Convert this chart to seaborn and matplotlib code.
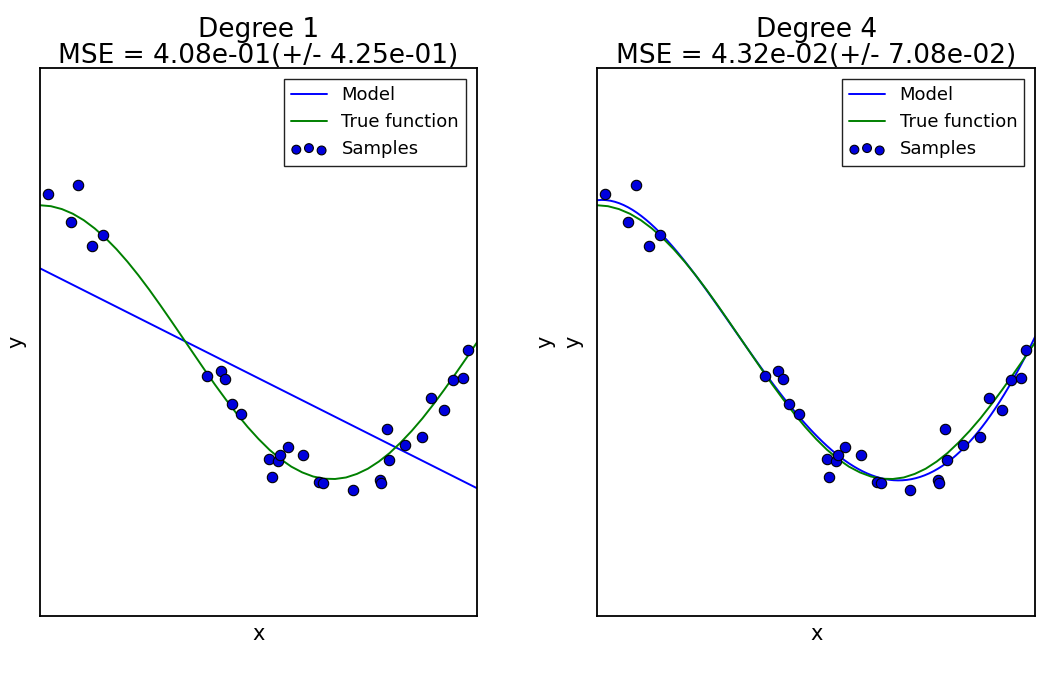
import numpy as np
import pandas as pd
import matplotlib
matplotlib.use("Agg")
import matplotlib.pyplot as plt
import seaborn as sns

# Sample points
sample_x = [0.018, 0.070, 0.088, 0.118, 0.143, 0.383, 0.414, 0.424, 0.439, 0.460,
            0.524, 0.530, 0.545, 0.549, 0.567, 0.602, 0.639, 0.647, 0.715, 0.778,
            0.781, 0.793, 0.799, 0.835, 0.873, 0.894, 0.925, 0.944, 0.967, 0.978]
sample_y = [1.085, 0.878, 1.146, 0.703, 0.786, -0.246, -0.214, -0.268, -0.453, -0.526,
            -0.854, -0.985, -0.871, -0.822, -0.766, -0.827, -1.024, -1.027, -1.080, -1.005,
            -1.029, -0.635, -0.859, -0.750, -0.696, -0.409, -0.496, -0.277, -0.258, -0.056]

# True function curve
true_x = [0.000, 0.025, 0.050, 0.075, 0.100, 0.125, 0.150, 0.175, 0.200, 0.225,
          0.250, 0.275, 0.300, 0.325, 0.350, 0.375, 0.400, 0.425, 0.450, 0.475,
          0.500, 0.525, 0.550, 0.575, 0.600, 0.625, 0.650, 0.675, 0.700, 0.725,
          0.750, 0.775, 0.800, 0.825, 0.850, 0.875, 0.900, 0.925, 0.950, 0.975, 1.000]
true_y = [1.000, 0.993, 0.972, 0.938, 0.891, 0.831, 0.760, 0.679, 0.588, 0.489,
          0.383, 0.271, 0.156, 0.039, -0.078, -0.195, -0.309, -0.418, -0.522, -0.619,
          -0.707, -0.786, -0.853, -0.909, -0.951, -0.981, -0.997, -0.999, -0.988, -0.962,
          -0.924, -0.872, -0.809, -0.733, -0.649, -0.556, -0.454, -0.346, -0.233, -0.118, 0.000]

degrees = [1, 4]
titles = ["Degree 1\nMSE = 4.08e-01(+/- 4.25e-01)",
          "Degree 4\nMSE = 4.32e-02(+/- 7.08e-02)"]

sns.set_style("white")
plt.rcParams["font.family"] = ["DejaVu Sans"]
plt.rcParams["text.color"] = "black"
plt.rcParams["axes.labelcolor"] = "black"

fig = plt.figure(figsize=(10.61, 6.83), dpi=100)
positions = [[0.0377, 0.098, 0.412, 0.802], [0.5627, 0.098, 0.413, 0.802]]

df = pd.DataFrame({"x": sample_x, "y": sample_y})
tdf = pd.DataFrame({"x": true_x, "y": true_y})

for i, deg in enumerate(degrees):
    ax = fig.add_axes(positions[i])
    ax.set_xlim(0, 1)
    ax.set_ylim(-2, 2)
    sns.regplot(data=df, x="x", y="y", order=deg, ci=None, scatter=False,
                truncate=False, color="b", label="Model",
                line_kws={"lw": 1.4, "color": "#0000ff"}, ax=ax)
    sns.lineplot(data=tdf, x="x", y="y", color="#008000", lw=1.4,
                 label="True function", ax=ax)
    sns.scatterplot(data=df, x="x", y="y", color="#0000dd", edgecolor="k",
                    linewidth=0.8, s=56, label="Samples", ax=ax, zorder=3)
    ax.set_xlim(0, 1)
    ax.set_ylim(-2, 2)
    ax.set_xticks([])
    ax.set_yticks([])
    ax.set_xlabel("x", fontsize=15, labelpad=6)
    ax.set_ylabel("y", fontsize=15, labelpad=10)
    ax.set_title(titles[i], fontsize=19, linespacing=1.0, pad=4)
    for sp in ax.spines.values():
        sp.set_color("black")
        sp.set_linewidth(1.3)
    leg = ax.legend(loc="upper right", fontsize=13, scatterpoints=3,
                    scatteryoffsets=[0.375, 0.5, 0.3125], fancybox=False,
                    framealpha=1, edgecolor="#222222", handlelength=2.0,
                    borderaxespad=0.6, markerscale=0.85)
    leg.get_frame().set_linewidth(1.0)

fig.text(545 / 1061, 1 - 342 / 683, "y", rotation=90, fontsize=15,
         ha="center", va="center")

fig.savefig("out.png", dpi=100, facecolor="white")
